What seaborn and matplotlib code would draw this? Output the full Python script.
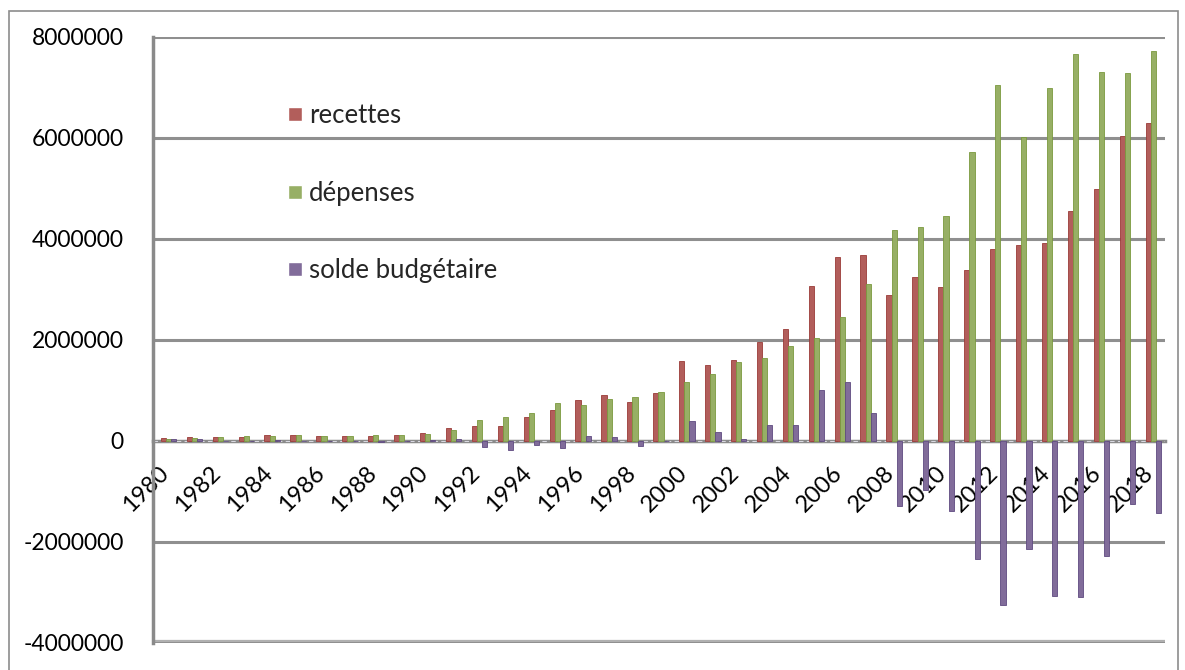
import matplotlib
matplotlib.use("Agg")
import matplotlib.pyplot as plt
import matplotlib.transforms as mtransforms
from matplotlib.patches import Rectangle
import seaborn as sns
import pandas as pd
import numpy as np

# Budget data, 1980-2018
years = list(range(1980, 2019))
recettes = [60000, 80000, 70000, 80000, 110000, 110000, 90000, 90000, 90000, 110000,
            150000, 250000, 300000, 290000, 470000, 600000, 810000, 910000, 760000, 950000,
            1570000, 1500000, 1600000, 1960000, 2210000, 3070000, 3630000, 3680000, 2890000, 3250000,
            3050000, 3380000, 3790000, 3870000, 3910000, 4540000, 4990000, 6030000, 6300000]
depenses = [30000, 50000, 70000, 90000, 100000, 110000, 100000, 100000, 120000, 115000,
            130000, 210000, 410000, 470000, 550000, 750000, 710000, 830000, 870000, 960000,
            1170000, 1320000, 1550000, 1630000, 1870000, 2030000, 2440000, 3100000, 4170000, 4230000,
            4450000, 5720000, 7050000, 6020000, 6980000, 7650000, 7300000, 7280000, 7720000]
solde = [30000, 30000, 0, -10000, 10000, 0, -10000, -10000, -30000, -5000,
         20000, 40000, -120000, -180000, -80000, -150000, 90000, 70000, -110000, -10000,
         390000, 180000, 40000, 310000, 310000, 1010000, 1170000, 550000, -1300000, -980000,
         -1400000, -2340000, -3250000, -2140000, -3070000, -3100000, -2290000, -1260000, -1430000]
series_names = ["recettes", "dépenses", "solde budgétaire"]
series_colors = ["#C0504D", "#9BBB59", "#8064A2"]
edge_colors = ["#9A3B38", "#7A9A3E", "#5F4A80"]
y_ticks = [-4000000, -2000000, 0, 2000000, 4000000, 6000000, 8000000]

df = pd.DataFrame({
    "annee": [str(y) for y in years] * 3,
    "serie": np.repeat(series_names, len(years)),
    "valeur": recettes + depenses + solde,
})

sns.set_style("white")
plt.rcParams["font.family"] = ["Lato", "DejaVu Sans"]
plt.rcParams["axes.unicode_minus"] = False

W, H = 1185, 670
fig = plt.figure(figsize=(W / 100, H / 100), dpi=100)
ax = fig.add_axes([153 / W, 1 - 642.7 / H, (1165 - 153) / W, (642.7 - 36.7) / H])

sns.barplot(data=df, x="annee", y="valeur", hue="serie", palette=series_colors,
            width=0.6, gap=0, ax=ax, zorder=3, legend=True)

# darker outline for each series
for container, ec in zip(ax.containers, edge_colors):
    for bar in container:
        bar.set_edgecolor(ec)
        bar.set_linewidth(0.6)

ax.set_xlim(-0.6, 38.45)
ax.set_ylim(-4000000, 8000000)
ax.set_xlabel("")
ax.set_ylabel("")

grid_col = "#8f8f8f"
ax.set_yticks(y_ticks)
ax.set_yticklabels([str(v) for v in y_ticks])
for v in y_ticks:
    if v not in (0, -4000000):
        ax.axhline(v, color=grid_col, lw=2.2, zorder=1)

# floor line
ax.axhline(-4000000, color="#b0b0b0", lw=4.5, zorder=2)
ax.axhline(-4000000, color="#8a8a8a", lw=1.2, zorder=2)

# category axis at zero
for side in ("top", "right"):
    ax.spines[side].set_visible(False)
ax.spines["bottom"].set_position(("data", 0))
ax.spines["bottom"].set_color("#8a8a8a")
ax.spines["bottom"].set_linewidth(2.5)
ax.spines["bottom"].set_zorder(2)
ax.axhline(0, color="#d8d8e0", lw=0.8, dashes=(4, 3), zorder=2.5)
ax.spines["left"].set_color("#8a8a8a")
ax.spines["left"].set_linewidth(2.5)

ax.set_xticks(range(0, len(years), 2))
ax.set_xticklabels([str(y) for y in years[::2]], rotation=45, ha="right",
                   va="center", rotation_mode="anchor")
ax.set_xticks(np.arange(len(years)) + 0.3, minor=True)
ax.tick_params(axis="x", which="major", length=0, pad=21, labelsize=17, colors="black")
ax.tick_params(axis="x", which="minor", length=5, width=1.8, color="#8a8a8a", direction="out")
ax.tick_params(axis="y", which="major", length=7, width=1.8, color="#8a8a8a",
               pad=14, labelsize=16.5, labelcolor="black", direction="out")
offset = mtransforms.ScaledTranslation(-3 / 100, 0, fig.dpi_scale_trans)
for lab in ax.get_xticklabels():
    lab.set_transform(lab.get_transform() + offset)

handles, labels = ax.get_legend_handles_labels()
ax.legend(handles, labels, loc="upper left", bbox_to_anchor=(288 / W, 1 - 103 / H),
          bbox_transform=fig.transFigure, frameon=False, fontsize=18.5,
          handlelength=0.55, handleheight=0.46, handletextpad=0.27,
          labelspacing=2.05, borderpad=0, borderaxespad=0)

# chart area frame
fig.patches.append(Rectangle((9 / W, -0.05), (1178 - 9) / W, 1.05 - 11 / H,
                             transform=fig.transFigure, fill=False,
                             edgecolor="#8c8c8c", lw=1.2))

fig.savefig("out.png", dpi=100)
